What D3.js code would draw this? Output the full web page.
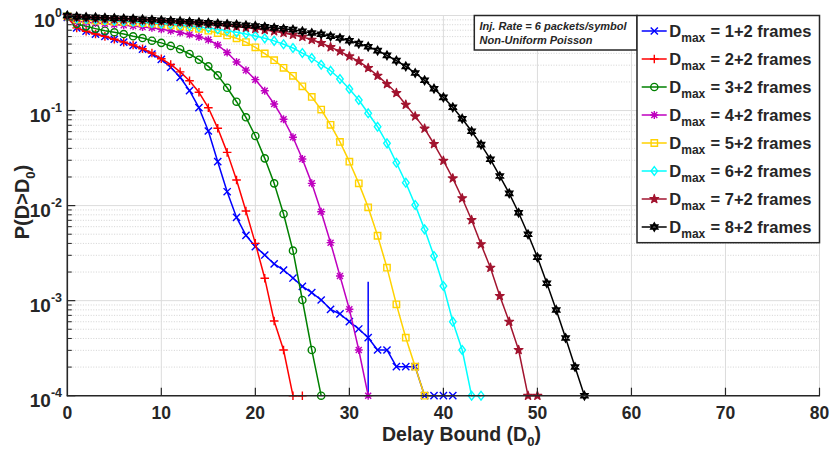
<!DOCTYPE html>
<html><head><meta charset="utf-8">
<script src="https://cdn.jsdelivr.net/npm/d3@7"></script>
<style>
body{margin:0;background:#fff;}
text{font-family:"Liberation Sans",Arial,Helvetica,sans-serif;font-weight:bold;fill:#262626;}
</style>
</head><body>
<svg id="chart" width="831" height="449"></svg>
<script>
// ---------- DATA (log10 of P(D>D0); D0 = 0,1,2,...) ----------
const xTicks = [0,10,20,30,40,50,60,70,80];
const yTickExponents = [0,-1,-2,-3,-4];
const legendFrames = ["1+2","2+2","3+2","4+2","5+2","6+2","7+2","8+2"];

const logP_Dmax1 = [-0.02,-0.13,-0.165,-0.195,-0.22,-0.25,-0.28,-0.315,-0.355,-0.405,
  -0.461,-0.545,-0.65,-0.791,-0.97,-1.215,-1.538,-1.854,-2.124,-2.313,
  -2.432,-2.52,-2.614,-2.678,-2.762,-2.85,-2.916,-2.993,-3.091,-3.14,
  -3.221,-3.298,-3.39,-3.519,-3.519,-3.695,-3.695,-3.695,-4,-4,-4,-4];
const logP_Dmax2 = [-0.02,-0.13,-0.165,-0.195,-0.22,-0.25,-0.28,-0.31,-0.35,-0.395,
  -0.455,-0.515,-0.593,-0.686,-0.808,-0.97,-1.187,-1.44,-1.731,-2.057,
  -2.397,-2.765,-3.214,-3.519,-4,-4];
const logP_Dmax3 = [-0.01,-0.089,-0.114,-0.138,-0.16,-0.177,-0.195,-0.219,-0.237,-0.265,
  -0.288,-0.32,-0.355,-0.405,-0.465,-0.535,-0.63,-0.76,-0.907,-1.071,
  -1.268,-1.503,-1.766,-2.088,-2.474,-2.993,-3.519,-4];
const logP_Dmax4 = [-0.01,-0.06,-0.07,-0.08,-0.088,-0.095,-0.102,-0.11,-0.12,-0.13,
  -0.145,-0.16,-0.178,-0.2,-0.225,-0.255,-0.31,-0.39,-0.49,-0.575,
  -0.675,-0.791,-0.931,-1.092,-1.281,-1.51,-1.766,-2.064,-2.39,-2.741,
  -3.091,-3.519,-4];
const logP_Dmax5 = [-0.01,-0.04,-0.047,-0.053,-0.058,-0.063,-0.068,-0.073,-0.079,-0.086,
  -0.094,-0.103,-0.113,-0.125,-0.14,-0.16,-0.185,-0.21,-0.24,-0.28,
  -0.335,-0.4,-0.47,-0.55,-0.635,-0.745,-0.857,-0.99,-1.15,-1.33,
  -1.538,-1.766,-2.018,-2.317,-2.653,-3.039,-3.39,-3.695,-4];
const logP_Dmax6 = [-0.005,-0.03,-0.036,-0.042,-0.048,-0.054,-0.06,-0.066,-0.072,-0.078,
  -0.085,-0.092,-0.1,-0.11,-0.12,-0.132,-0.145,-0.16,-0.177,-0.195,
  -0.215,-0.24,-0.267,-0.303,-0.342,-0.395,-0.447,-0.518,-0.581,-0.668,
  -0.773,-0.889,-1.029,-1.17,-1.345,-1.549,-1.759,-1.994,-2.25,-2.53,
  -2.846,-3.221,-3.519,-4,-4];
const logP_Dmax7 = [-0.003,-0.02,-0.025,-0.03,-0.034,-0.038,-0.042,-0.046,-0.05,-0.055,
  -0.06,-0.065,-0.07,-0.076,-0.083,-0.09,-0.098,-0.107,-0.117,-0.128,
  -0.14,-0.152,-0.166,-0.183,-0.202,-0.225,-0.255,-0.289,-0.333,-0.377,
  -0.43,-0.482,-0.552,-0.633,-0.721,-0.815,-0.938,-1.061,-1.19,-1.352,
  -1.528,-1.713,-1.923,-2.152,-2.407,-2.653,-2.951,-3.221,-3.519,-4,-4];
const logP_Dmax8 = [0,-0.012,-0.016,-0.02,-0.024,-0.028,-0.032,-0.036,-0.04,-0.045,
  -0.05,-0.055,-0.06,-0.066,-0.072,-0.078,-0.084,-0.09,-0.096,-0.103,
  -0.11,-0.12,-0.13,-0.14,-0.149,-0.167,-0.184,-0.197,-0.219,-0.237,
  -0.265,-0.296,-0.328,-0.37,-0.419,-0.475,-0.535,-0.605,-0.682,-0.77,
  -0.861,-0.966,-1.086,-1.218,-1.359,-1.513,-1.689,-1.871,-2.075,-2.302,
  -2.544,-2.817,-3.098,-3.393,-3.698,-4];
// vertical blue marker line at D0 = 32
const markerLineX = [32,32];
const markerLineLogP = [-2.8,-4];

// ---------- STYLE ----------
const seriesData = [logP_Dmax1,logP_Dmax2,logP_Dmax3,logP_Dmax4,logP_Dmax5,logP_Dmax6,logP_Dmax7,logP_Dmax8];
const seriesColors = ["#0000FF","#FF0000","#008000","#BF00BF","#FFD200","#00FFFF","#A2142F","#000000"];
const seriesMarkers = ["x","plus","circle","star","square","diamond","pentagram","hexagram"];

const W = 831, H = 449;
const L = 67.3, R = 819.5, T = 15.5, B = 395.7;
const svg = d3.select("#chart");
const x = d3.scaleLinear().domain([0,80]).range([L,R]);
const y = d3.scaleLog().domain([1e-4,1]).range([B,T]);
const axisColor = "#262626";

// ---------- GRID ----------
const grid = svg.append("g");
const minorVals = [];
for (let e=-4; e<0; e++) for (let m=2; m<=9; m++) minorVals.push(m*Math.pow(10,e));
grid.selectAll("line.minor").data(minorVals).enter().append("line")
  .attr("x1",L).attr("x2",R).attr("y1",d=>y(d)).attr("y2",d=>y(d))
  .attr("stroke","#c8c8c8").attr("stroke-width",0.8).attr("stroke-dasharray","1,1.6");
grid.selectAll("line.majy").data(yTickExponents.map(e=>Math.pow(10,e))).enter().append("line")
  .attr("x1",L).attr("x2",R).attr("y1",d=>y(d)).attr("y2",d=>y(d))
  .attr("stroke","#dcdcdc").attr("stroke-width",1);
grid.selectAll("line.majx").data(xTicks.filter(d=>d>0)).enter().append("line")
  .attr("x1",d=>x(d)).attr("x2",d=>x(d)).attr("y1",T).attr("y2",B)
  .attr("stroke","#dcdcdc").attr("stroke-width",1);

// ---------- MARKERS ----------
function markerPath(type){
  const s=3.6;
  switch(type){
    case "x": return `M${-s},${-s}L${s},${s}M${-s},${s}L${s},${-s}`;
    case "plus": return `M${-4.3},0L${4.3},0M0,${-4.3}L0,${4.3}`;
    case "star": return `M${-4},0L4,0M0,-4L0,4M-3,-3L3,3M-3,3L3,-3`;
    case "square": return `M-3.2,-3.2L3.2,-3.2L3.2,3.2L-3.2,3.2Z`;
    case "diamond": return `M0,-4.4L3.3,0L0,4.4L-3.3,0Z`;
    case "hexagram": {
      const r=3.9; let p="";
      for(let k=0;k<2;k++){
        const pts=[0,1,2].map(i=>{const a=-Math.PI/2+k*Math.PI/3+i*2*Math.PI/3;return [r*Math.cos(a),r*Math.sin(a)];});
        p+=`M${pts[0][0]},${pts[0][1]}L${pts[1][0]},${pts[1][1]}L${pts[2][0]},${pts[2][1]}Z`;
      }
      return p;
    }
    case "pentagram": return d3.symbol().type(d3.symbolStar).size(24)();
    default: return null;
  }
}
function drawMarker(g,type,color,cx,cy){
  if(type==="circle"){
    g.append("circle").attr("cx",cx).attr("cy",cy).attr("r",3.6)
      .attr("fill","none").attr("stroke",color).attr("stroke-width",1.4);
  } else if(type==="pentagram"){
    g.append("path").attr("d",markerPath(type)).attr("transform",`translate(${cx},${cy})`)
      .attr("fill",color).attr("stroke",color).attr("stroke-width",1.2).attr("stroke-linejoin","round");
  } else if(type==="hexagram"){
    g.append("path").attr("d",markerPath(type)).attr("transform",`translate(${cx},${cy})`)
      .attr("fill","none").attr("stroke",color).attr("stroke-width",1.7);
  } else {
    g.append("path").attr("d",markerPath(type)).attr("transform",`translate(${cx},${cy})`)
      .attr("fill","none").attr("stroke",color).attr("stroke-width",1.4);
  }
}

// ---------- SERIES ----------
const line = d3.line().x(d=>x(d[0])).y(d=>y(d[1]));
const plot = svg.append("g");
seriesData.forEach((arr,i)=>{
  const pts = arr.map((v,k)=>[k,Math.pow(10,v)]);
  const g = plot.append("g");
  g.append("path").datum(pts).attr("d",line).attr("fill","none")
    .attr("stroke",seriesColors[i]).attr("stroke-width",1.5).attr("stroke-linejoin","round");
  pts.forEach(p=>drawMarker(g,seriesMarkers[i],seriesColors[i],x(p[0]),y(p[1])));
  if(i===0){
    g.append("path").datum(markerLineX.map((xv,k)=>[xv,Math.pow(10,markerLineLogP[k])]))
      .attr("d",line).attr("fill","none").attr("stroke",seriesColors[0]).attr("stroke-width",1.5);
  }
});

// ---------- AXES ----------
const ax = svg.append("g");
ax.append("line").attr("x1",L).attr("x2",L).attr("y1",T).attr("y2",B+0.5)
  .attr("stroke",axisColor).attr("stroke-width",1.6);
ax.append("line").attr("x1",L-0.5).attr("x2",R+0.5).attr("y1",B).attr("y2",B)
  .attr("stroke",axisColor).attr("stroke-width",1.6);
yTickExponents.forEach(e=>{
  const yy=y(Math.pow(10,e));
  ax.append("line").attr("x1",L).attr("x2",L+8).attr("y1",yy).attr("y2",yy)
    .attr("stroke",axisColor).attr("stroke-width",1.2);
  const t=ax.append("text").attr("x",62).attr("y",yy+11).attr("text-anchor","end");
  t.append("tspan").attr("font-size",19).text("10");
  t.append("tspan").attr("font-size",12.5).attr("dy",-10).text(String(e));
});
minorVals.forEach(v=>{
  ax.append("line").attr("x1",L).attr("x2",L+4.5).attr("y1",y(v)).attr("y2",y(v))
    .attr("stroke",axisColor).attr("stroke-width",1);
});
xTicks.forEach(v=>{
  if(v>0) ax.append("line").attr("x1",x(v)).attr("x2",x(v)).attr("y1",B).attr("y2",B-8)
    .attr("stroke",axisColor).attr("stroke-width",1.2);
  ax.append("text").attr("x",x(v)).attr("y",419).attr("text-anchor","middle")
    .attr("font-size",17.5).text(v);
});
const xt = svg.append("text").attr("x",382).attr("y",441).attr("font-size",19.5);
xt.append("tspan").text("Delay Bound (D");
xt.append("tspan").attr("font-size",13).attr("dy",5).text("0");
xt.append("tspan").attr("dy",-5).text(")");
const yt = svg.append("text").attr("transform","translate(29,202) rotate(-90)")
  .attr("text-anchor","middle").attr("font-size",20);
yt.append("tspan").text("P(D>D");
yt.append("tspan").attr("font-size",13).attr("dy",6).text("0");
yt.append("tspan").attr("dy",-6).text(")");

// ---------- ANNOTATION ----------
svg.append("rect").attr("x",474.3).attr("y",T).attr("width",637-474.3).attr("height",50-T)
  .attr("fill","#fff").attr("stroke",axisColor).attr("stroke-width",1.5);
svg.append("text").attr("x",479.5).attr("y",30).attr("font-size",11).attr("font-style","italic")
  .text("Inj. Rate = 6 packets/symbol");
svg.append("text").attr("x",479.5).attr("y",44).attr("font-size",11).attr("font-style","italic")
  .text("Non-Uniform Poisson");

// ---------- LEGEND ----------
const lg = svg.append("g");
lg.append("rect").attr("x",637).attr("y",T).attr("width",R-637).attr("height",242.7-T)
  .attr("fill","#fff").attr("stroke",axisColor).attr("stroke-width",1.5);
legendFrames.forEach((f,i)=>{
  const ry = 31 + i*28.0;
  lg.append("line").attr("x1",641.7).attr("x2",666.7).attr("y1",ry).attr("y2",ry)
    .attr("stroke",seriesColors[i]).attr("stroke-width",1.5);
  drawMarker(lg,seriesMarkers[i],seriesColors[i],654.3,ry);
  const t = lg.append("text").attr("x",669.3).attr("y",ry+5.5).attr("font-size",16.5);
  t.append("tspan").text("D");
  t.append("tspan").attr("font-size",12).attr("dy",5.5).text("max");
  t.append("tspan").attr("dy",-5.5).attr("x",710.5).text("= " + f + " frames");
});
</script>
</body></html>
